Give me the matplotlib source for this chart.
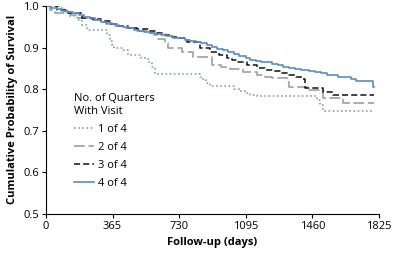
import numpy as np
import matplotlib.pyplot as plt

plt.rcParams['font.family'] = ['Open Sans', 'DejaVu Sans']

# Kaplan-Meier style curves (day, survival)
days_1 = [0, 72, 100, 130, 171, 200, 226, 336, 350, 362, 375, 420, 450, 520, 560, 580, 600,
          845, 860, 875, 900, 1030, 1060, 1090, 1120, 1157, 1486, 1500, 1518, 1800]
surv_1 = [1.0, 0.995, 0.985, 0.975, 0.965, 0.955, 0.943, 0.93, 0.915, 0.905, 0.898, 0.893,
          0.882, 0.875, 0.865, 0.852, 0.836, 0.83, 0.822, 0.815, 0.808, 0.8, 0.796, 0.79,
          0.787, 0.784, 0.775, 0.762, 0.748, 0.748]

days_2 = [0, 20, 50, 130, 175, 260, 300, 330, 380, 420, 488, 560, 590, 614, 650, 670, 747,
          806, 910, 960, 1010, 1080, 1157, 1200, 1240, 1321, 1330, 1431, 1518, 1628, 1800]
surv_2 = [1.0, 0.99, 0.984, 0.978, 0.972, 0.967, 0.962, 0.957, 0.952, 0.947, 0.94, 0.935,
          0.93, 0.92, 0.91, 0.9, 0.889, 0.878, 0.858, 0.853, 0.848, 0.842, 0.834, 0.83,
          0.826, 0.818, 0.805, 0.798, 0.779, 0.767, 0.767]

days_3 = [0, 60, 120, 200, 250, 300, 350, 400, 450, 500, 571, 610, 650, 690, 730, 773, 845,
          900, 950, 992, 1020, 1050, 1100, 1157, 1200, 1250, 1290, 1330, 1370, 1410, 1420,
          1518, 1573, 1800]
surv_3 = [1.0, 0.99, 0.982, 0.972, 0.968, 0.963, 0.957, 0.952, 0.948, 0.945, 0.94, 0.935,
          0.93, 0.926, 0.922, 0.914, 0.899, 0.889, 0.882, 0.875, 0.87, 0.866, 0.858, 0.851,
          0.847, 0.843, 0.839, 0.834, 0.829, 0.824, 0.802, 0.793, 0.786, 0.786]

days_4 = [0, 30, 60, 90, 120, 150, 180, 210, 240, 270, 300, 330, 360, 390, 420, 450, 480,
          510, 540, 570, 600, 630, 660, 695, 730, 760, 790, 820, 850, 880, 910, 940, 970,
          1000, 1030, 1060, 1095, 1120, 1150, 1180, 1205, 1240, 1270, 1300, 1330, 1365,
          1400, 1440, 1475, 1510, 1540, 1570, 1600, 1635, 1669, 1700, 1795, 1800]
surv_4 = [1.0, 0.996, 0.993, 0.989, 0.985, 0.982, 0.978, 0.974, 0.97, 0.966, 0.962, 0.959,
          0.956, 0.952, 0.949, 0.946, 0.943, 0.94, 0.937, 0.934, 0.932, 0.929, 0.927,
          0.924, 0.922, 0.919, 0.916, 0.913, 0.91, 0.906, 0.901, 0.897, 0.893, 0.889,
          0.884, 0.88, 0.875, 0.871, 0.868, 0.866, 0.864, 0.86, 0.857, 0.854, 0.851,
          0.848, 0.846, 0.844, 0.842, 0.838, 0.835, 0.833, 0.83, 0.828, 0.825, 0.82,
          0.805, 0.805]

labels = ['1 of 4', '2 of 4', '3 of 4', '4 of 4']
xticks = [0, 365, 730, 1095, 1460, 1825]

fig = plt.figure(figsize=(3.96, 2.58), dpi=100)
ax = fig.add_axes([0.116, 0.171, 0.841, 0.806])

ax.plot(days_1, surv_1, drawstyle='steps-post', color='#7fa898', lw=1.2,
        ls=(0, (1, 1.5)), label=labels[0])
ax.plot(days_2, surv_2, drawstyle='steps-post', color='#a6a6a6', lw=1.3,
        ls=(0, (6, 2)), label=labels[1])
ax.plot(days_3, surv_3, drawstyle='steps-post', color='#111111', lw=1.1,
        ls=(0, (4, 2)), label=labels[2])
ax.plot(days_4, surv_4, drawstyle='steps-post', color='#5a8dc2', lw=1.2,
        label=labels[3])

ax.set_xlim(0, 1825)
ax.set_ylim(0.5, 1.0)
ax.set_xticks(xticks)
ax.set_yticks([0.5, 0.6, 0.7, 0.8, 0.9, 1.0])
ax.set_yticklabels(['0.5', '0.6', '0.7', '0.8', '0.9', '1.0'])
ax.tick_params(labelsize=8, length=3, width=0.8, pad=2)
for s in ['top', 'right']:
    ax.spines[s].set_visible(False)
for s in ['left', 'bottom']:
    ax.spines[s].set_linewidth(0.8)

ax.set_xlabel('Follow-up (days)', fontsize=8, fontweight='bold', labelpad=4)
ax.set_ylabel('Cumulative Probability of Survival', fontsize=8, fontweight='bold',
              labelpad=4)

leg = ax.legend(title='No. of Quarters\nWith Visit', loc='lower left',
                bbox_to_anchor=(0.07, 0.1), frameon=False, fontsize=8,
                title_fontsize=8, handlelength=1.8, handletextpad=0.4,
                labelspacing=0.62, borderaxespad=0)
leg._legend_box.align = 'left'

fig.savefig('out.png', dpi=100)
